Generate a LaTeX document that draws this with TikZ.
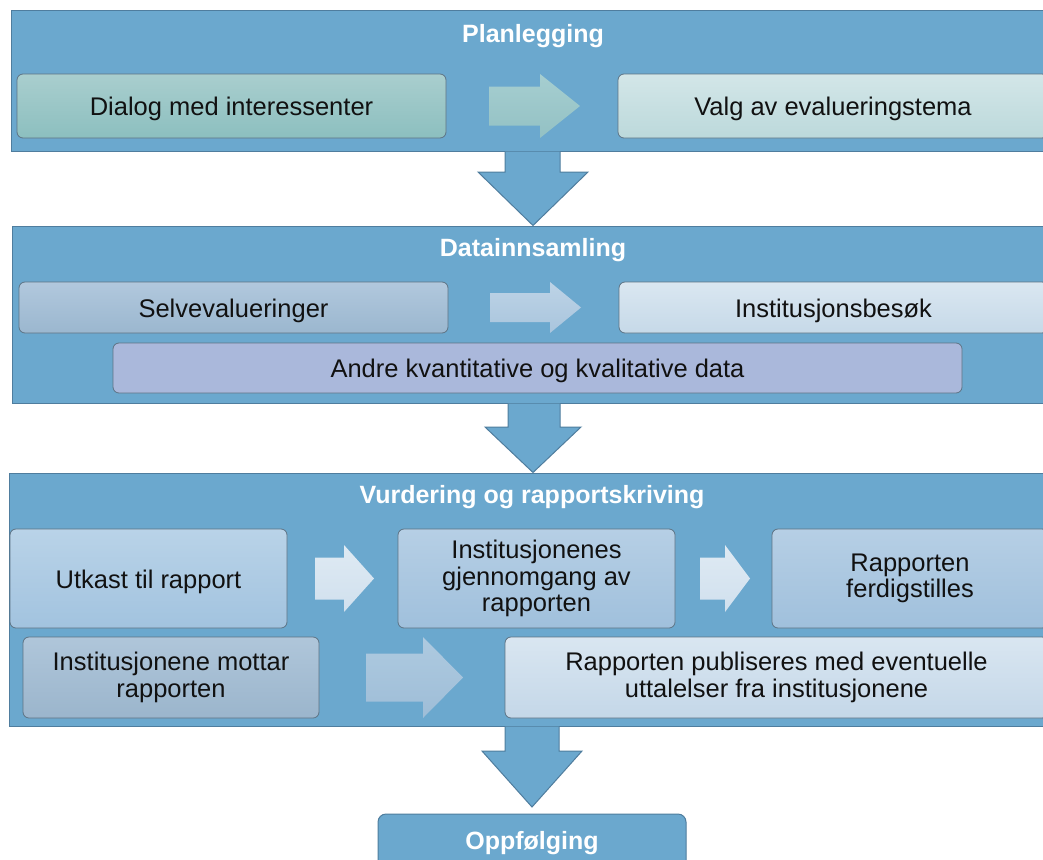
\documentclass[tikz,border=0pt]{standalone}
\usepackage{fontspec}
\setmainfont{Liberation Sans}
\usetikzlibrary{calc}
\definecolor{pfill}{HTML}{6BA8CE}
\definecolor{pborder}{HTML}{4F7D9E}
\definecolor{bborder}{HTML}{5E7384}
\definecolor{txt}{HTML}{111111}
\definecolor{dialogT}{HTML}{A9CECE}\definecolor{dialogB}{HTML}{8CBFBF}
\definecolor{valgT}{HTML}{D3E6E8}\definecolor{valgB}{HTML}{BCD9DB}
\definecolor{selvT}{HTML}{B1C8DD}\definecolor{selvB}{HTML}{9BB7CF}
\definecolor{instT}{HTML}{DAE7F1}\definecolor{instB}{HTML}{C6D9E8}
\definecolor{andreC}{HTML}{AAB8DB}
\definecolor{utkT}{HTML}{B9D3E8}\definecolor{utkB}{HTML}{A2C3DF}
\definecolor{midT}{HTML}{B6CFE5}\definecolor{midB}{HTML}{A0C0DC}
\definecolor{mottT}{HTML}{AFC6DA}\definecolor{mottB}{HTML}{9BB5CC}
\definecolor{publT}{HTML}{D9E6F1}\definecolor{publB}{HTML}{C4D7E8}
\definecolor{aoneT}{HTML}{A6CED0}\definecolor{aoneB}{HTML}{93C1C4}
\definecolor{atwoT}{HTML}{BDD3E6}\definecolor{atwoB}{HTML}{A9C5DD}
\definecolor{athrT}{HTML}{DFEAF3}\definecolor{athrB}{HTML}{D0E0EE}
\definecolor{afivT}{HTML}{AECAE0}\definecolor{afivB}{HTML}{9EBDD7}
\tikzset{
  panel/.style={draw=pborder, fill=pfill, line width=1pt, rectangle, inner sep=0pt},
  ptitle/.style={text=white, font=\fontsize{25pt}{28pt}\selectfont\bfseries, anchor=base, inner sep=0pt},
  stepbox/.style={draw=bborder, line width=0.8pt, rounded corners=6pt, rectangle, inner sep=0pt,
    align=center, text=txt, font=\fontsize{25.5pt}{26.5pt}\selectfont,
    execute at begin node={\rule{0pt}{24.5pt}}},
  downarrow/.style={fill=pfill, draw=pborder, line width=1pt, line join=miter},
}
\newcommand\rarrow[7]{%
  \path[#7] ($(#2,0 |- #1)+(0,-#5)$) -- ($(#3,0 |- #1)+(0,-#5)$) -- ($(#3,0 |- #1)+(0,-#6)$)
    -- (#4,0 |- #1) -- ($(#3,0 |- #1)+(0,#6)$) -- ($(#3,0 |- #1)+(0,#5)$)
    -- ($(#2,0 |- #1)+(0,#5)$) -- cycle;}
\begin{document}
\begin{tikzpicture}[x=1pt,y=-1pt]
\useasboundingbox[fill=white] (0,0) rectangle (1043,859);
% panels
\node[panel, minimum width=1044pt, minimum height=140pt] (p1) at (533,81) {};
\node[panel, minimum width=1043pt, minimum height=177pt] (p2) at (533.5,314.5) {};
\node[panel, minimum width=1046pt, minimum height=253pt] (p3) at (532,599.5) {};
\node[panel, rounded corners=8pt, minimum width=308pt, minimum height=90pt] (p4) at (532,859) {};
% down arrows
\draw[downarrow] (505,0 |- p1.south) -- (505,172) -- (478,172) -- (533,0 |- p2.north)
  -- (588,172) -- (560,172) -- (560,0 |- p1.south);
\draw[downarrow] (508,0 |- p2.south) -- (508,427) -- (485,427) -- (533,0 |- p3.north)
  -- (581,427) -- (560,427) -- (560,0 |- p2.south);
\draw[downarrow] (505,0 |- p3.south) -- (505,751) -- (482,751) -- (532,807)
  -- (582,751) -- (559,751) -- (559,0 |- p3.south);
% titles
\node[ptitle] (t1) at (533,43) {Planlegging};
\node[ptitle] (t2) at (533,256) {Datainnsamling};
\node[ptitle] (t3) at (532,503) {Vurdering og rapportskriving};
\node[ptitle] (t4) at (532,849) {Oppfølging};
% boxes
\node[stepbox, top color=dialogT, bottom color=dialogB, minimum width=429pt, minimum height=64pt] (dialog) at (231.5,106) {Dialog med interessenter};
\node[stepbox, top color=valgT, bottom color=valgB, minimum width=430pt, minimum height=64pt] (valg) at (833,106) {Valg av evalueringstema};
\node[stepbox, top color=selvT, bottom color=selvB, minimum width=429pt, minimum height=51pt] (selv) at (233.5,307.5) {Selvevalueringer};
\node[stepbox, top color=instT, bottom color=instB, minimum width=429pt, minimum height=51pt] (inst) at (833.5,307.5) {Institusjonsbesøk};
\node[stepbox, fill=andreC, minimum width=849pt, minimum height=50pt] (andre) at (537.5,368) {Andre kvantitative og kvalitative data};
\node[stepbox, top color=utkT, bottom color=utkB, minimum width=277pt, minimum height=99pt] (utkast) at (148.5,578.5) {Utkast til rapport};
\node[stepbox, top color=midT, bottom color=midB, minimum width=277pt, minimum height=99pt] (instj) at (536.5,578.5) {Institusjonenes\\gjennomgang av\\rapporten};
\node[stepbox, top color=midT, bottom color=midB, minimum width=276pt, minimum height=99pt] (ferdig) at (910,578.5) {Rapporten\\ferdigstilles};
\node[stepbox, top color=mottT, bottom color=mottB, minimum width=296pt, minimum height=81pt] (mottar) at (171,677.5) {Institusjonene mottar\\rapporten};
\node[stepbox, top color=publT, bottom color=publB, minimum width=543pt, minimum height=81pt] (publ) at (776.5,677.5) {Rapporten publiseres med eventuelle\\uttalelser fra institusjonene};
% horizontal arrows
\rarrow{dialog}{489}{540}{580}{19.5}{32}{top color=aoneT, bottom color=aoneB}
\rarrow{selv}{490}{550}{581}{14.5}{25.5}{top color=atwoT, bottom color=atwoB}
\rarrow{utkast}{315}{344}{374}{21}{33.5}{top color=athrT, bottom color=athrB}
\rarrow{instj}{700}{725}{750}{21}{33.5}{top color=athrT, bottom color=athrB}
\rarrow{mottar}{366}{423}{463}{24}{40.5}{top color=afivT, bottom color=afivB}
\end{tikzpicture}
\end{document}
